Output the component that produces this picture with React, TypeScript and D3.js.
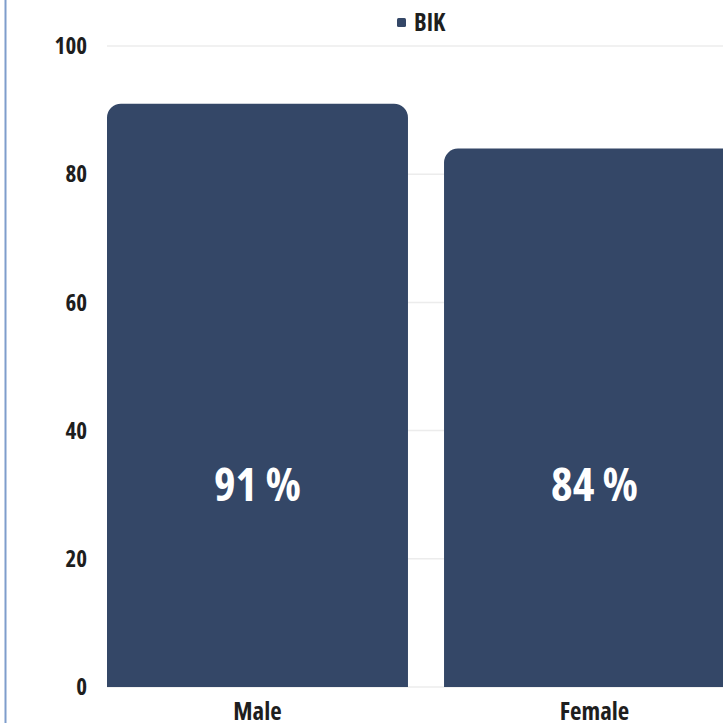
import React from "react";
import * as d3 from "d3";

const categories = ["Male", "Female"];
const values = [91, 84];
const valueLabels = ["91 %", "84 %"];
const yTicks = [0, 20, 40, 60, 80, 100];
const seriesName = "BIK";

const W = 723;
const H = 723;
const FONT = "'Open Sans', 'Liberation Sans Narrow', sans-serif";
const BAR = "#344767";

function topRoundedRect(x: number, y: number, w: number, h: number, r: number) {
  const p = d3.path();
  p.moveTo(x, y + h);
  p.lineTo(x, y + r);
  p.arcTo(x, y, x + r, y, r);
  p.lineTo(x + w - r, y);
  p.arcTo(x + w, y, x + w, y + r, r);
  p.lineTo(x + w, y + h);
  p.closePath();
  return p.toString();
}

export default function App() {
  const y = d3.scaleLinear().domain([0, 100]).range([687, 46]);
  const x = d3
    .scaleBand<string>()
    .domain(categories)
    .range([107, 745])
    .paddingInner(0.107)
    .paddingOuter(0);
  const bw = x.bandwidth();
  return (
    <svg
      width={W}
      height={H}
      style={{ position: "fixed", left: 0, top: 0, background: "#fff" }}
      fontFamily={FONT}
    >
      <line x1={5.5} x2={5.5} y1={0} y2={H} stroke="#7f9dcc" strokeWidth={2} />
      {yTicks.map((t) => (
        <g key={t}>
          <line x1={107} x2={W} y1={y(t)} y2={y(t)} stroke="#ececec" strokeWidth={1.5} />
          <text
            x={87}
            y={y(t)}
            dy="0.36em"
            textAnchor="end"
            fontSize={23}
            fontWeight={700}
            fontStretch="condensed"
            fill="#1e1e1e"
          >
            {t}
          </text>
        </g>
      ))}
      {categories.map((c, i) => {
        const bx = x(c)!;
        return (
          <g key={c}>
            <path d={topRoundedRect(bx, y(values[i]), bw, y(0) - y(values[i]), 14)} fill={BAR} />
            <text
              x={bx + bw / 2}
              y={y(0) - 186}
              textAnchor="middle"
              fontSize={46}
              fontWeight={700}
              fontStretch="condensed"
              fill="#fff"
            >
              {valueLabels[i]}
            </text>
            <text
              x={bx + bw / 2}
              y={720}
              textAnchor="middle"
              fontSize={25}
              fontWeight={700}
              fontStretch="condensed"
              fill="#1e1e1e"
            >
              {c}
            </text>
          </g>
        );
      })}
      <rect x={397} y={18} width={9} height={9} rx={1.5} fill={BAR} />
      <text x={414} y={31} fontSize={24} fontWeight={700} fontStretch="condensed" fill="#1e1e1e">
        {seriesName}
      </text>
    </svg>
  );
}
